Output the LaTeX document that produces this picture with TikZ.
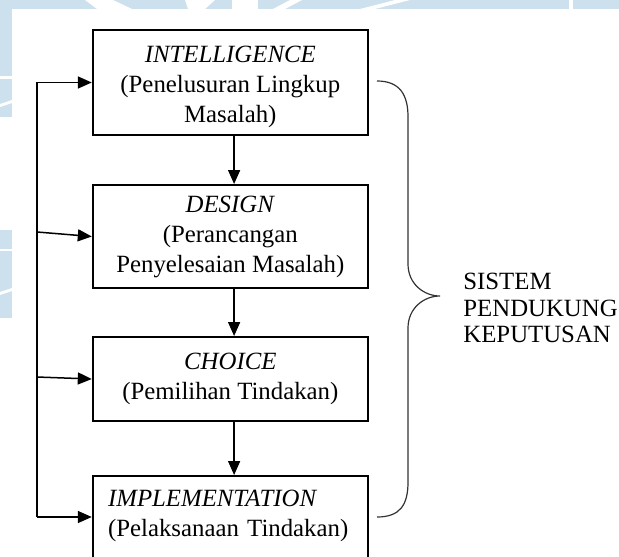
\documentclass[tikz,border=0pt]{standalone}
\usepackage{fontspec}
\setmainfont{Liberation Serif}
\usetikzlibrary{arrows.meta,positioning}
\definecolor{wmblue}{RGB}{204,224,238}

\begin{document}
\begin{tikzpicture}[x=0.5pt,y=-0.5pt, every node/.style={font=\fontsize{12.4}{15}\selectfont},%
        stage/.style={draw,line width=1pt,minimum width=137.5pt,align=center,inner sep=0pt},
        flow/.style={line width=0.75pt,-{Triangle[length=7pt,width=6pt]}},
        brace/.style={line width=0.6pt,draw=black!80}]
        \useasboundingbox (0,0) rectangle (619,556);
        \clip (0,0) rectangle (619,556);
        % watermark strips
        \fill[wmblue] (0,0) rectangle (619,556);
        \fill[white] (12,9) rectangle (619,556);
        \fill[white] (85,0) -- (113,0) -- (132,9) -- (97,9) -- cycle;
        \fill[white] (185,0) -- (215,0) -- (205,9) -- (188,9) -- cycle;
        \fill[white] (232,0) rectangle (258,9);
        \fill[white] (290,0) -- (302,0) -- (285,9) -- (273,9) -- cycle;
        \fill[white] (395,0) -- (410,0) -- (375,9) -- (360,9) -- cycle;
        \fill[white] (569,0) rectangle (573,9);
        \fill[white] (0,76) rectangle (12,79);
        \fill[white] (0,104) -- (12,100) -- (12,103) -- (0,107) -- cycle;
        \fill[white] (0,117) rectangle (12,230);
        \fill[white] (0,249) rectangle (12,251);
        \fill[white] (0,292) -- (12,288) -- (12,291) -- (0,295) -- cycle;
        \fill[white] (0,318) rectangle (12,556);
        % stages
        \node[stage,minimum height=52.5pt] (intel) at (230.3,82.5) {\rule{0pt}{13pt}\textit{INTELLIGENCE}\\(Penelusuran Lingkup\\Masalah)};
        \node[stage,minimum height=51.5pt] (design) at (230.3,236.5) {\textit{DESIGN}\\(Perancangan\\Penyelesaian Masalah)};
        \node[stage,minimum height=42pt] (choice) at (230.3,379) {\textit{CHOICE}\\(Pemilihan Tindakan)};
        \node[stage,anchor=north,align=left,text width=122.2pt,inner xsep=7.65pt,inner ysep=7pt,text depth=40pt] (implem) at (230.3,475) {\textit{IMPLEMENTATION}\\(Pelaksanaan Tindakan)};
        \node[anchor=north west,inner sep=0pt,align=left,font=\fontsize{12.4}{13.25}\selectfont] (dss) at (463,273) {SISTEM\\PENDUKUNG\\KEPUTUSAN};
        % flow down
        \draw[flow] ([xshift=1.9pt]intel.south) -- ([xshift=1.9pt]design.north);
        \draw[flow] ([xshift=1.9pt]design.south) -- ([xshift=1.9pt]choice.north);
        \draw[flow] ([xshift=1.9pt]choice.south) -- ([xshift=1.9pt]implem.north);
        % feedback loop
        \coordinate (loopB) at (37,517);
        \coordinate (loopD) at (37,232);
        \coordinate (loopC) at (37,377);
        \draw[flow] (loopB) -- (loopB |- intel.west) -- (intel.west);
        \draw[flow] (loopD) -- (design.west);
        \draw[flow] (loopC) -- (choice.west);
        \draw[flow] (loopB) -- (loopB -| implem.west);
        % brace
        \coordinate (braceT) at (377,81);
        \coordinate (braceM) at (440,296);
        \coordinate (braceB) at (377,517);
        \draw[brace] (braceT) .. controls (400,81) and (408,95) .. (408,117) -- (408,264)
                .. controls (408,284) and (424,296) .. (braceM)
                .. controls (424,296) and (408,308) .. (408,328) -- (408,482)
                .. controls (408,505) and (400,517) .. (braceB);
    \end{tikzpicture}
\end{document}
